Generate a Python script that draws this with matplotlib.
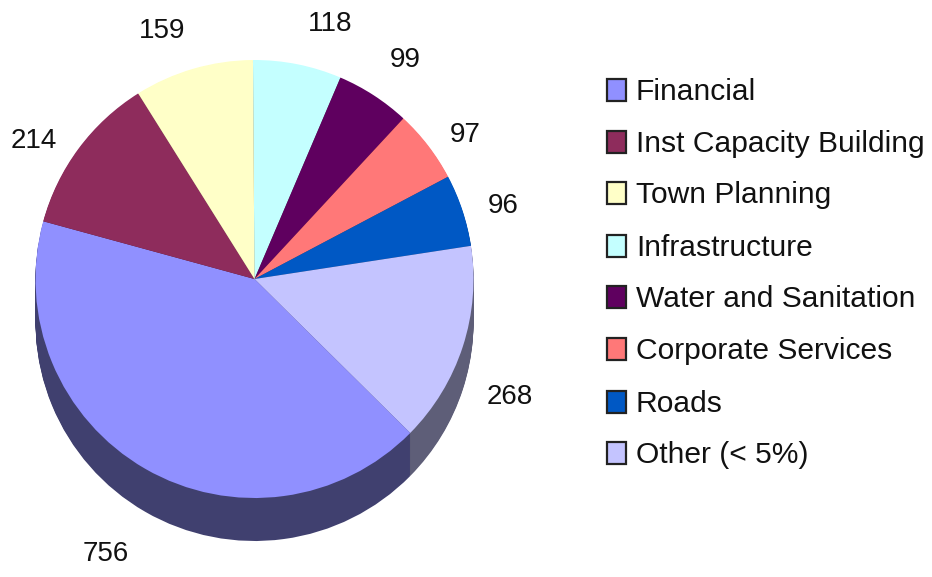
import matplotlib
matplotlib.use("Agg")
import matplotlib.pyplot as plt
from matplotlib.patches import Rectangle

categories = ["Infrastructure", "Water and Sanitation", "Corporate Services", "Roads",
              "Other (< 5%)", "Financial", "Inst Capacity Building", "Town Planning"]
values = [118, 99, 97, 96, 268, 756, 214, 159]
legend_order = ["Financial", "Inst Capacity Building", "Town Planning", "Infrastructure",
                "Water and Sanitation", "Corporate Services", "Roads", "Other (< 5%)"]
top_colors = ["#c4ffff", "#5f005f", "#ff7878", "#0058c4", "#c4c4ff", "#9090ff", "#8e2c5c", "#ffffc8"]
side_colors = ["#62807f", "#300030", "#803c3c", "#002c62", "#5e5e78", "#40406f", "#471630", "#80805f"]
value_labels = {"Infrastructure": (330, 24), "Water and Sanitation": (405, 60), "Corporate Services": (465, 135),
                "Roads": (503, 206), "Other (< 5%)": (510, 397), "Financial": (106, 554),
                "Inst Capacity Building": (34, 141), "Town Planning": (162, 31)}

W, H = 932, 577
fig = plt.figure(figsize=(W / 100, H / 100), dpi=100)
ax = fig.add_axes([0, 0, 1, 1])
ax.set_xlim(0, W)
ax.set_ylim(H, 0)
ax.axis("off")

cx, cy, r, depth = 254.5, 279, 219, 43
pa = fig.add_axes([0, 0, 1, 1])
for d in range(depth, 0, -1):
    pa.pie(values, colors=side_colors, startangle=90.4, counterclock=False,
           center=(cx, H - cy - d), radius=r, frame=True,
           wedgeprops={"linewidth": 0})
pa.pie(values, colors=top_colors, startangle=90.4, counterclock=False,
       center=(cx, H - cy), radius=r, frame=True, wedgeprops={"linewidth": 0})
pa.set_xlim(0, W)
pa.set_ylim(0, H)
pa.set_aspect("auto")
pa.axis("off")

font = {"family": "Liberation Sans", "color": "#111111"}
for c, v in zip(categories, values):
    x, y = value_labels[c]
    ax.text(x, y, str(v), fontsize=20, ha="center", va="center", zorder=5, **font)

ly = [90, 142, 193, 246, 297, 349, 402, 453]
color_of = dict(zip(categories, top_colors))
ax.set_zorder(3)
for name, y in zip(legend_order, ly):
    ax.add_patch(Rectangle((607, y - 11), 19, 22, facecolor=color_of[name], edgecolor="#222222", linewidth=1.6))
    ax.text(636, y + 2, name, fontsize=21.6, ha="left", va="center", **font)

fig.savefig("out.png", dpi=100)
